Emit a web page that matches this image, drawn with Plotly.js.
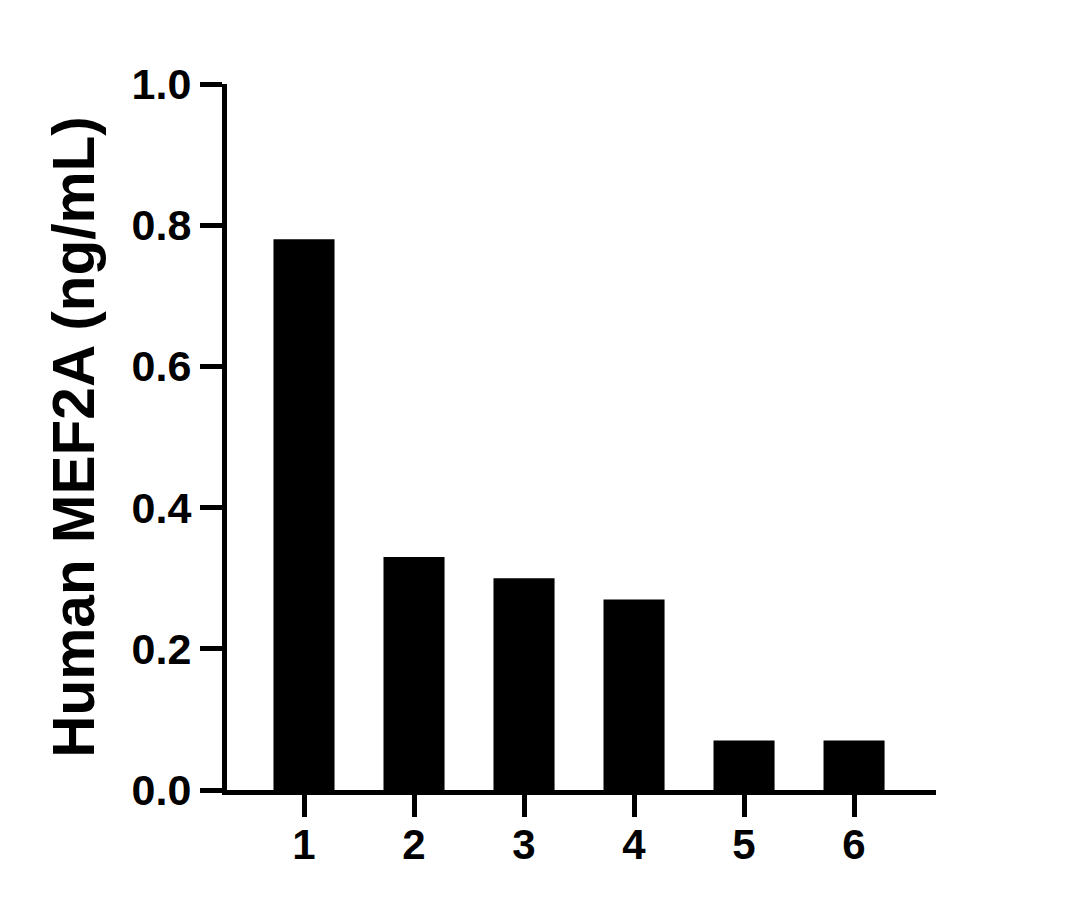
<!DOCTYPE html>
<html>
<head>
<meta charset="utf-8">
<script src="https://cdn.plot.ly/plotly-3.0.1.min.js"></script>
<style>
  body { margin: 0; background: #fff; }
  #chart { width: 1067px; height: 909px; }
</style>
</head>
<body>
<div id="chart"></div>
<script>
// sample labels and measured concentrations
const samples = ['1', '2', '3', '4', '5', '6'];
const mef2a = [0.78, 0.33, 0.30, 0.27, 0.07, 0.07];
const yTicks = [0, 0.2, 0.4, 0.6, 0.8, 1.0];
const yTickText = ['0.0', '0.2', '0.4', '0.6', '0.8', '1.0'];

const fontFam = 'Liberation Sans, Arial, sans-serif';

let trace = {
    x: samples,
    y: mef2a,
    type: 'bar',
    width: 0.555,
    marker: { color: '#000000', line: { width: 0 } },
    hoverinfo: 'none'
};

let layout = {
    width: 1067,
    height: 909,
    margin: { l: 227, r: 131, t: 84, b: 119 },
    paper_bgcolor: '#ffffff',
    plot_bgcolor: '#ffffff',
    showlegend: false,
    font: { family: fontFam, color: '#000000' },
    xaxis: {
        type: 'category',
        range: [-0.70, 5.745],
        showgrid: false,
        zeroline: false,
        showline: true,
        linecolor: '#000000',
        linewidth: 5,
        ticks: 'outside',
        ticklen: 22,
        tickwidth: 5,
        tickcolor: '#000000',
        tickfont: { family: fontFam, size: 42, weight: 'bold', color: '#000000' },
        ticklabelstandoff: -8,
        fixedrange: true
    },
    yaxis: {
        range: [0, 1],
        tickvals: yTicks,
        ticktext: yTickText,
        showgrid: false,
        zeroline: false,
        showline: true,
        linecolor: '#000000',
        linewidth: 5,
        ticks: 'outside',
        ticklen: 22,
        tickwidth: 5,
        tickcolor: '#000000',
        tickfont: { family: fontFam, size: 43, weight: 'bold', color: '#000000' },
        title: {
            text: 'Human MEF2A (ng/mL)',
            font: { family: fontFam, size: 58.5, weight: 'bold', color: '#000000' },
            standoff: 20
        },
        automargin: false,
        fixedrange: true
    }
};

Plotly.newPlot('chart', [trace], layout, { staticPlot: true, displayModeBar: false });
</script>
</body>
</html>
